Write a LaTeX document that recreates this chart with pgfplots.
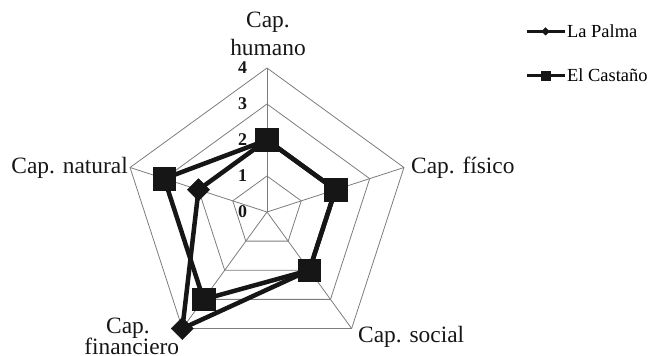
\documentclass[border=0pt]{standalone}
\usepackage{fontspec}
\setmainfont{Liberation Serif}
\usepackage{pgfplots}
\pgfplotsset{compat=1.18}
\usepgfplotslibrary{polar}
\definecolor{gridc}{RGB}{125,125,125}
\definecolor{inkc}{RGB}{22,22,22}

\begin{document}
\begin{tikzpicture}[
  ticklbl/.style={font=\bfseries\fontsize{18}{18}\selectfont, inkc, xshift=-24.5bp},
]
\useasboundingbox (0,0) rectangle (648bp,-356bp);
% radar chart: angle = axis direction, radius = value 0..4
\begin{polaraxis}[
  at={(267bp,-212bp)}, anchor=center,
  scale only axis, width=288bp, height=288bp,
  hide axis, xmin=0, xmax=360, ymin=0, ymax=4, clip=false,
  legend style={at={(1.3948,1.156)}, anchor=north west, draw=none, fill=none,
    inner sep=0pt, row sep=28bp, font=\fontsize{18.5}{21}\selectfont,
    nodes={inner sep=1bp}},
  legend cell align=left,
  legend image code/.code={
    \draw[mark repeat=2, mark phase=2]
      plot coordinates {(0bp,0bp)(19bp,0bp)(38bp,0bp)};},
]
  % pentagon grid
  \addplot[gridc, line width=0.8bp, forget plot] coordinates {(90,1)(18,1)(306,1)(234,1)(162,1)(90,1)};
  \addplot[gridc, line width=0.8bp, forget plot] coordinates {(90,2)(18,2)(306,2)(234,2)(162,2)(90,2)};
  \addplot[gridc, line width=0.8bp, forget plot] coordinates {(90,3)(18,3)(306,3)(234,3)(162,3)(90,3)};
  \addplot[gridc, line width=0.8bp, forget plot] coordinates {(90,4)(18,4)(306,4)(234,4)(162,4)(90,4)};
  % spokes
  \addplot[gridc, line width=0.8bp, forget plot] coordinates {(90,0)(90,4)};
  \addplot[gridc, line width=0.8bp, forget plot] coordinates {(18,0)(18,4)};
  \addplot[gridc, line width=0.8bp, forget plot] coordinates {(306,0)(306,4)};
  \addplot[gridc, line width=0.8bp, forget plot] coordinates {(234,0)(234,4)};
  \addplot[gridc, line width=0.8bp, forget plot] coordinates {(162,0)(162,4)};

  % La Palma
  \addplot[inkc, line width=4.5bp, mark=square*, mark size=7.8bp,
    mark options={rotate=45, line width=0.5bp}, forget plot]
    coordinates {(90,2)(18,2)(306,2)(234,4)(162,2)(90,2)};
  % El Castaño
  \addplot[inkc, line width=4.5bp, mark=square*, mark size=11.3bp,
    mark options={line width=0.5bp}, forget plot]
    coordinates {(90,2)(18,2)(306,2)(234,3)(162,3)(90,2)};

  \addlegendimage{inkc, line width=3.3bp, mark=square*, mark size=2.7bp,
    mark options={rotate=45, line width=0.3bp}}
  \addlegendentry{La Palma}
  \addlegendimage{inkc, line width=3.3bp, mark=square*, mark size=4.2bp,
    mark options={line width=0.3bp}}
  \addlegendentry{El Castaño}

  % value labels along the top spoke
  \node[ticklbl] at (axis cs:90,0) {0};
  \node[ticklbl] at (axis cs:90,1) {1};
  \node[ticklbl] at (axis cs:90,2) {2};
  \node[ticklbl] at (axis cs:90,3) {3};
  \node[ticklbl] at (axis cs:90,4) {4};
\end{polaraxis}

% category labels
\begin{scope}[every node/.style={font=\fontsize{23.5}{27}\selectfont, inkc, inner sep=0pt}]
  \node[anchor=base] at (268bp,-27.7bp) {Cap.};
  \node[anchor=base] at (268bp,-55bp) {humano};
  \node[anchor=base west] at (411bp,-173.3bp) {Cap. físico};
  \node[anchor=base east] at (128bp,-173bp) {Cap. natural};
  \node[anchor=base west] at (358bp,-342.7bp) {Cap. social};
  \node[anchor=base] at (128bp,-333bp) {Cap.};
  \node[anchor=base] at (131.7bp,-354bp) {financiero};
\end{scope}
\end{tikzpicture}
\end{document}
